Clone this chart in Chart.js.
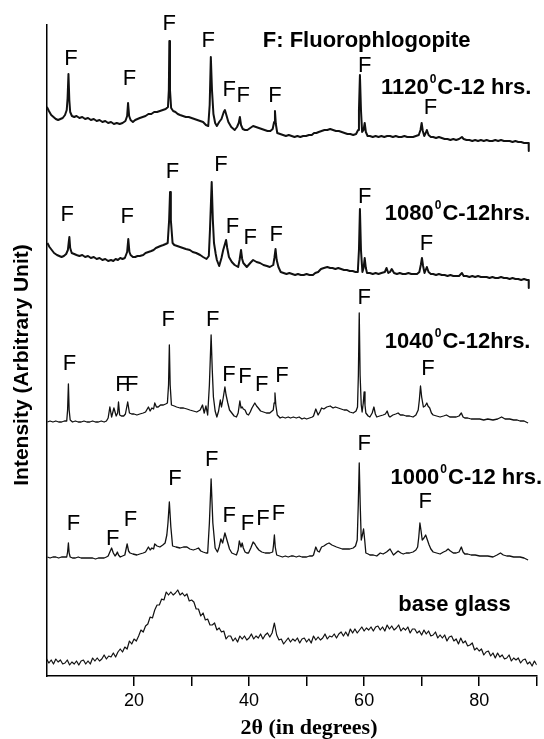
<!DOCTYPE html>
<html lang="en">
  <head>
    <meta charset="UTF-8" />
    <title>XRD patterns - fluorophlogopite glass-ceramics</title>
    <script src="https://cdn.jsdelivr.net/npm/chart.js"></script>
    <style>
      body { margin: 0; background: #fff; }
      #wrap { width: 544px; height: 739px; position: relative; }
    </style>
  </head>
  <body>
    <div id="wrap"><canvas id="xrd"></canvas></div>

    <script>
      // [2theta, intensity above the trace's own reference line]
      const trace1120 = [[4.85,43],[5.2,39],[5.6,35],[6.0,33],[6.4,31],[6.8,30],[7.2,31],[7.6,32],[8.0,35],[8.3,40],[8.45,52],[8.6,76],[8.75,50],[8.9,38],[9.2,34],[9.6,33],[10.0,34],[10.5,32],[11.0,33],[11.5,31],[12.0,32],[12.5,30],[13.0,31],[13.5,29],[14.0,30],[14.5,28],[15.0,29],[15.5,27],[16.0,28],[16.5,26],[17.0,27],[17.5,26],[18.0,27],[18.5,29],[18.8,34],[18.96,47],[19.15,34],[19.4,30],[19.8,28],[20.2,30],[20.6,31],[21.0,32],[21.5,33],[22.0,34],[22.5,36],[23.0,36],[23.5,38],[24.0,38],[24.5,39],[25.0,40],[25.5,41],[25.9,43],[26.05,60],[26.14,109],[26.25,60],[26.45,42],[26.8,39],[27.2,38],[27.6,36],[28.0,35],[28.5,34],[29.0,33],[29.5,33],[30.0,32],[30.5,31],[31.0,30],[31.5,29],[32.0,28],[32.5,25],[32.9,24],[33.15,45],[33.35,93],[33.55,60],[33.8,36],[34.1,27],[34.4,24],[34.8,28],[35.2,31],[35.6,38],[35.8,40],[36.1,34],[36.4,28],[36.9,23],[37.5,20],[37.9,23],[38.2,27],[38.4,33],[38.6,25],[38.9,21],[39.3,20],[39.7,20],[40.2,22],[40.7,24],[41.2,23],[41.7,22],[42.2,21],[42.7,20],[43.2,19],[43.7,19],[44.1,21],[44.35,28],[44.5,39],[44.65,26],[44.9,17],[45.4,16],[45.9,15],[46.4,14],[46.9,15],[47.4,14],[47.9,13],[48.4,14],[48.9,13],[49.4,14],[49.9,14],[50.4,15],[50.9,15],[51.3,17],[51.7,17],[52.1,18],[52.6,19],[53.1,20],[53.6,20],[54.1,21],[54.6,20],[55.1,19],[55.6,19],[56.1,18],[56.6,17],[57.1,16],[57.6,16],[58.1,15],[58.6,16],[58.95,20],[59.1,40],[59.27,75],[59.45,40],[59.65,18],[59.9,20],[60.1,27],[60.3,18],[60.6,14],[61.0,14],[61.5,13],[62.0,14],[62.5,13],[63.0,14],[63.5,13],[64.0,14],[64.5,14],[65.0,13],[65.5,14],[66.0,13],[66.5,13],[67.0,14],[67.5,13],[68.0,13],[68.5,13],[69.0,14],[69.5,15],[69.8,20],[70.0,27],[70.2,19],[70.45,14],[70.7,17],[70.9,20],[71.2,15],[71.6,13],[72.0,13],[72.5,12],[73.0,13],[73.5,12],[74.0,11],[74.5,11],[75.0,10],[75.5,11],[76.0,10],[76.5,11],[77.0,13],[77.3,11],[77.8,10],[78.3,10],[78.8,9],[79.3,10],[79.8,9],[80.3,10],[80.8,9],[81.3,10],[81.8,9],[82.3,9],[82.8,10],[83.3,9],[83.8,10],[84.3,9],[84.8,9],[85.3,9],[85.8,8],[86.3,9],[86.8,8],[87.3,8],[87.8,7],[88.3,7],[88.6,7],[88.62,-1]];

      const trace1080 = [[4.94,47],[5.3,43],[5.7,40],[6.1,37],[6.6,35],[7.0,34],[7.4,33],[7.8,34],[8.2,36],[8.5,40],[8.65,48],[8.76,53],[8.9,42],[9.17,37],[9.6,36],[10.0,35],[10.5,34],[11.0,35],[11.5,33],[12.0,34],[12.5,32],[13.0,33],[13.5,31],[14.0,32],[14.5,30],[15.0,31],[15.5,29],[16.0,30],[16.4,29],[16.8,31],[17.2,30],[17.6,32],[18.0,31],[18.4,32],[18.8,38],[19.0,51],[19.2,38],[19.4,35],[19.8,33],[20.2,33],[20.6,34],[21.0,34],[21.6,35],[22.0,37],[22.5,38],[23.0,39],[23.4,40],[23.8,42],[24.2,43],[24.6,44],[25.1,45],[25.5,46],[25.85,47],[26.1,70],[26.26,98],[26.4,70],[26.7,47],[27.0,45],[27.5,44],[28.0,43],[28.5,42],[29.0,41],[29.7,40],[30.2,38],[30.8,37],[31.5,35],[32.0,33],[32.6,31],[33.0,34],[33.2,60],[33.5,108],[33.7,70],[33.9,47],[34.2,36],[34.4,30],[34.8,24],[35.2,32],[35.5,40],[36.0,50],[36.2,42],[36.5,33],[37.0,28],[37.5,25],[38.1,23],[38.35,30],[38.6,40],[38.8,31],[39.0,27],[39.6,23],[40.2,27],[40.7,30],[41.3,28],[41.9,27],[42.5,25],[43.1,24],[43.6,23],[44.2,25],[44.4,32],[44.6,41],[44.8,30],[45.1,23],[45.5,18],[46.0,17],[46.5,16],[47.0,17],[47.5,16],[48.0,15],[48.5,16],[49.0,15],[49.5,15],[50.0,16],[50.5,15],[51.1,15],[51.5,17],[52.0,18],[52.5,21],[53.0,22],[53.6,23],[54.1,22],[54.5,22],[55.0,21],[55.5,22],[56.0,21],[56.5,20],[57.0,20],[57.5,19],[58.0,19],[58.5,18],[58.9,18],[59.1,40],[59.27,81],[59.45,40],[59.7,18],[59.9,22],[60.1,32],[60.3,22],[60.5,17],[61.0,17],[61.5,16],[62.0,17],[62.5,16],[63.0,17],[63.6,18],[63.9,22],[64.2,17],[64.5,18],[64.8,21],[65.2,17],[65.7,16],[66.2,17],[66.7,16],[67.2,16],[67.7,17],[68.2,16],[68.7,16],[69.2,16],[69.6,18],[69.85,25],[70.05,32],[70.25,24],[70.5,17],[70.7,20],[70.9,23],[71.2,18],[71.6,16],[72.0,16],[72.5,15],[73.0,16],[73.5,15],[74.0,15],[74.5,14],[75.0,15],[75.5,14],[76.0,14],[76.5,14],[77.0,17],[77.3,14],[77.8,14],[78.3,13],[78.8,14],[79.3,13],[79.8,14],[80.3,13],[80.8,13],[81.3,13],[81.8,12],[82.3,13],[82.8,12],[83.3,12],[83.8,13],[84.3,12],[84.8,12],[85.3,11],[85.8,12],[86.3,11],[86.8,11],[87.3,10],[87.8,11],[88.3,10],[88.6,10],[88.62,2]];

      const trace1040 = [[4.94,3],[5.4,4],[5.9,3],[6.4,4],[6.9,3],[7.4,3],[7.9,4],[8.3,4],[8.45,15],[8.59,41],[8.72,15],[8.9,5],[9.3,3],[9.8,4],[10.3,3],[10.8,3],[11.3,4],[11.8,3],[12.3,3],[12.8,4],[13.3,3],[13.8,3],[14.3,4],[14.8,3],[15.2,4],[15.5,7],[15.8,18],[16.1,8],[16.5,17],[16.9,9],[17.15,12],[17.3,23],[17.5,10],[17.8,9],[18.2,9],[18.5,11],[18.9,23],[19.2,12],[19.6,11],[20.0,11],[20.5,10],[21.0,11],[21.6,12],[22.0,13],[22.5,18],[22.8,14],[23.1,17],[23.4,16],[23.6,22],[23.9,18],[24.2,18],[24.6,20],[25.1,20],[25.5,21],[25.8,22],[26.0,40],[26.14,80],[26.28,40],[26.5,20],[27.0,19],[27.4,18],[28.0,17],[28.6,17],[29.2,16],[29.7,15],[30.3,14],[30.9,13],[31.5,15],[31.9,20],[32.2,12],[32.5,19],[32.8,10],[33.1,40],[33.4,90],[33.6,55],[33.8,28],[34.1,14],[34.4,8],[34.7,14],[35.0,25],[35.2,18],[35.5,27],[35.8,38],[36.0,30],[36.3,22],[36.6,15],[37.0,12],[37.4,9],[37.8,8],[38.1,12],[38.4,24],[38.6,17],[38.8,18],[39.0,16],[39.3,15],[39.6,11],[39.9,10],[40.2,13],[40.5,17],[41.0,22],[41.3,19],[41.6,17],[42.0,14],[42.5,13],[43.0,12],[43.6,12],[44.2,15],[44.35,22],[44.5,32],[44.65,20],[44.9,10],[45.4,7],[45.8,8],[46.3,7],[46.8,8],[47.2,7],[47.7,8],[48.2,7],[48.7,8],[49.2,6],[49.6,7],[50.0,6],[50.5,7],[51.0,8],[51.2,9],[51.6,16],[52.0,10],[52.3,13],[52.6,17],[53.0,16],[53.5,18],[54.1,19],[54.6,17],[55.0,18],[55.5,17],[56.0,16],[56.5,15],[57.0,15],[57.5,13],[58.1,12],[58.6,14],[58.85,18],[59.0,50],[59.15,112],[59.3,50],[59.5,20],[59.65,13],[59.85,22],[60.0,33],[60.15,20],[60.3,12],[60.7,9],[61.0,8],[61.4,12],[61.7,18],[61.95,11],[62.2,8],[62.7,9],[63.3,10],[63.7,11],[64.0,14],[64.3,9],[64.5,8],[65.0,10],[65.5,11],[65.9,12],[66.3,10],[66.8,10],[67.3,9],[67.9,9],[68.5,8],[69.0,10],[69.4,15],[69.6,25],[69.8,39],[70.0,28],[70.3,18],[70.6,19],[70.9,22],[71.1,19],[71.4,17],[71.7,12],[72.0,10],[72.6,9],[73.2,8],[73.8,9],[74.3,10],[74.9,8],[75.5,8],[76.0,8],[76.5,9],[76.9,12],[77.2,8],[77.5,7],[78.0,7],[78.6,6],[79.2,6],[80.1,6],[80.8,5],[81.5,6],[82.4,5],[83.2,6],[83.9,8],[84.5,6],[85.3,6],[86.0,5],[86.6,5],[87.1,4],[87.8,4],[88.5,2]];

      const trace1000 = [[4.94,8],[5.4,7],[5.9,8],[6.4,8],[6.9,7],[7.4,8],[7.9,8],[8.3,8],[8.45,13],[8.59,22],[8.72,12],[8.9,8],[9.3,7],[9.8,7],[10.3,8],[10.8,7],[11.3,7],[11.8,7],[12.3,7],[12.8,7],[13.3,6],[13.8,7],[14.3,7],[14.8,7],[15.2,8],[15.5,9],[15.8,13],[16.1,17],[16.4,12],[16.7,9],[16.95,11],[17.1,13],[17.3,10],[17.6,8],[18.0,9],[18.4,10],[18.8,21],[19.05,14],[19.3,12],[19.8,11],[20.5,10],[21.0,11],[21.6,12],[22.0,13],[22.5,18],[22.8,15],[23.1,17],[23.4,16],[23.6,21],[24.0,19],[24.5,18],[25.0,20],[25.4,22],[25.7,30],[25.9,42],[26.14,63],[26.4,38],[26.7,19],[27.3,18],[28.0,17],[28.6,18],[29.2,18],[29.7,16],[30.3,15],[30.8,16],[31.2,17],[31.6,14],[32.0,13],[32.5,12],[32.8,12],[33.1,42],[33.4,86],[33.7,42],[34.1,17],[34.5,13],[34.8,18],[35.1,26],[35.4,22],[35.8,32],[36.0,28],[36.3,22],[36.6,16],[37.0,12],[37.4,11],[37.8,10],[38.1,15],[38.3,24],[38.6,18],[38.8,22],[39.0,17],[39.3,13],[39.6,12],[39.9,12],[40.3,17],[40.7,23],[41.0,21],[41.3,18],[41.7,15],[42.2,13],[42.8,12],[43.6,12],[44.1,13],[44.25,20],[44.4,30],[44.55,18],[44.8,10],[45.3,9],[45.8,8],[46.3,9],[46.8,8],[47.3,9],[47.7,9],[48.2,8],[48.7,9],[49.2,8],[49.6,8],[50.0,8],[50.5,9],[51.0,9],[51.2,10],[51.6,18],[51.9,14],[52.2,13],[52.6,18],[53.0,19],[53.5,21],[53.9,22],[54.4,20],[54.8,19],[55.2,18],[55.7,17],[56.2,16],[56.6,16],[57.0,16],[57.5,16],[58.1,17],[58.5,19],[58.8,25],[58.98,60],[59.15,102],[59.32,60],[59.5,25],[59.7,30],[59.9,36],[60.1,25],[60.3,12],[60.7,11],[61.0,10],[61.6,10],[62.2,9],[62.8,12],[63.3,11],[63.9,13],[64.5,16],[65.1,10],[65.5,12],[65.9,14],[66.4,12],[66.8,11],[67.3,12],[67.9,12],[68.5,13],[69.0,15],[69.3,18],[69.5,28],[69.7,42],[69.9,34],[70.1,25],[70.4,27],[70.7,30],[71.0,25],[71.3,20],[71.6,16],[72.0,13],[72.6,12],[73.2,11],[73.8,13],[74.2,14],[74.6,16],[75.0,14],[75.5,12],[76.0,12],[76.5,13],[76.9,18],[77.2,13],[77.5,11],[78.0,11],[78.6,10],[79.3,10],[80.1,9],[80.8,9],[81.5,9],[82.4,8],[83.1,10],[83.7,12],[84.2,10],[84.8,9],[85.3,9],[86.0,8],[86.6,8],[87.1,8],[87.8,7],[88.5,5]];

      // base glass: measured every 0.4 deg from 4.8 deg
      const baseGlassStart = 4.8;
      const baseGlassStep = 0.4;
      const baseGlass = [17,13,16,12,17,14,16,12,13,16,11,14,12,15,11,15,16,12,15,12,18,15,18,15,17,21,17,20,19,23,19,24,27,24,29,27,35,32,37,35,40,46,44,50,52,59,58,66,71,71,77,76,84,81,84,81,83,86,81,83,80,82,75,76,74,67,67,60,63,56,57,51,51,53,46,48,44,45,37,40,40,35,38,34,40,37,40,36,38,42,37,40,38,42,37,41,43,39,43,53,41,36,37,32,35,38,34,37,35,38,33,37,38,34,37,33,40,36,39,36,38,42,37,40,39,42,38,42,44,40,44,40,47,43,47,43,46,49,45,48,46,49,45,49,50,46,49,45,51,47,50,46,48,51,45,48,46,49,43,47,47,43,45,41,46,42,45,40,41,44,38,41,38,41,35,39,40,35,37,32,38,33,35,30,31,33,26,28,25,27,21,24,25,20,23,18,23,19,21,17,18,21,15,18,16,18,13,16,17,12,14,10,15,11];

      // vertical offset of each pattern in the stack
      const offset1120 = 526;
      const offset1080 = 386;
      const offset1040 = 251;
      const offset1000 = 111;

      // "F" peak markers [2theta, height on the stacked scale]
      const peakMarks = [
        [9.05,619],[19.2,599],[26.1,654],[32.9,637],[36.55,588],[38.99,582],[44.5,582],[60.1,612],[71.55,570],
        [8.4,463],[18.8,461],[26.7,506],[35.1,513],[37.1,451],[40.2,440],[44.7,443],[60.1,481],[70.85,434],
        [8.76,314],[17.9,293],[19.6,293],[25.96,358],[33.7,358],[36.5,303],[39.3,301],[42.2,293],[45.7,302],[60.0,380],[71.1,309],
        [9.45,154],[16.3,139],[19.4,158],[27.1,199],[33.5,218],[36.55,162],[39.7,154],[42.4,159],[45.1,164],[60.0,234],[70.6,176]
      ];

      const sampleLabels = [
        { lead: "F: Fluorophlogopite", x: 42.38, y: 636.7 },
        { lead: "1120", sup: "0", tail: "C-12 hrs.", x: 62.92, y: 590 },
        { lead: "1080", sup: "0", tail: "C-12hrs.", x: 63.6, y: 464 },
        { lead: "1040", sup: "0", tail: "C-12hrs.", x: 63.6, y: 336 },
        { lead: "1000", sup: "0", tail: "C-12 hrs.", x: 64.57, y: 200 },
        { lead: "base glass", x: 65.94, y: 73.5 }
      ];

      const SANS = '"Liberation Sans", Arial, sans-serif';
      const SERIF = '"Liberation Serif", "Times New Roman", serif';

      function stacked(pairs, offset) {
        return pairs.map((p) => ({ x: p[0], y: p[1] + offset }));
      }

      function line(data, width) {
        return {
          data: data,
          borderColor: "#111",
          borderWidth: width,
          borderJoinStyle: "round",
          pointRadius: 0,
          tension: 0,
          fill: false,
        };
      }

      const annotate = {
        id: "annotate",
        afterDraw(chart) {
          const ctx = chart.ctx;
          const xs = chart.scales.x;
          const ys = chart.scales.y;
          ctx.save();
          ctx.fillStyle = "#000";
          ctx.textBaseline = "alphabetic";

          ctx.font = "22px " + SANS;
          ctx.textAlign = "center";
          peakMarks.forEach((m) => {
            ctx.fillText("F", xs.getPixelForValue(m[0]), ys.getPixelForValue(m[1]) + 8);
          });

          ctx.textAlign = "left";
          sampleLabels.forEach((l) => {
            let px = xs.getPixelForValue(l.x);
            const py = ys.getPixelForValue(l.y) + 8;
            ctx.font = "bold 22px " + SANS;
            ctx.fillText(l.lead, px, py);
            if (l.sup) {
              px += ctx.measureText(l.lead).width + 1;
              ctx.font = "bold 12px " + SANS;
              ctx.fillText(l.sup, px, py - 11);
              px += ctx.measureText(l.sup).width + 1;
              ctx.font = "bold 22px " + SANS;
              ctx.fillText(l.tail, px, py);
            }
          });

          // axis titles
          ctx.textAlign = "center";
          ctx.font = "bold 22px " + SERIF;
          ctx.fillText("2\u03b8 (in degrees)", 309, 734);

          ctx.translate(22, 365);
          ctx.rotate(-Math.PI / 2);
          ctx.font = "bold 21px " + SANS;
          ctx.textBaseline = "middle";
          ctx.fillText("Intensity (Arbitrary Unit)", 0, 0);
          ctx.restore();
        },
      };

      new Chart(document.getElementById("xrd"), {
        type: "line",
        data: {
          datasets: [
            line(stacked(trace1120, offset1120), 2.0),
            line(stacked(trace1080, offset1080), 2.0),
            line(stacked(trace1040, offset1040), 1.3),
            line(stacked(trace1000, offset1000), 1.3),
            line(baseGlass.map((v, i) => ({ x: baseGlassStart + i * baseGlassStep, y: v })), 1.2),
          ],
        },
        options: {
          responsive: true,
          maintainAspectRatio: false,
          animation: false,
          events: [],
          layout: { padding: { left: 46.6, right: 7.3, top: 25, bottom: 0 } },
          plugins: { legend: { display: false }, tooltip: { enabled: false } },
          scales: {
            x: {
              type: "linear",
              min: 4.8,
              max: 90,
              afterFit: (scale) => { scale.height = 63; },
              afterBuildTicks: (scale) => {
                scale.ticks = scale.ticks.filter((t) => t.value % 10 === 0);
              },
              border: { display: true, color: "#000", width: 1.5 },
              grid: {
                display: true,
                drawOnChartArea: false,
                drawTicks: true,
                tickLength: 10,
                color: "#000",
                lineWidth: 1.5,
              },
              ticks: {
                stepSize: 10,
                autoSkip: false,
                maxRotation: 0,
                padding: 4,
                color: "#000",
                font: { family: SANS, size: 18 },
                callback: (v) => (v % 20 === 0 ? v : ""),
              },
            },
            y: {
              min: 0,
              max: 651,
              afterFit: (scale) => { scale.width = 0; },
              border: { display: true, color: "#000", width: 1.5 },
              grid: { display: false },
              ticks: { display: false },
            },
          },
        },
        plugins: [annotate],
      });
    </script>
  </body>
</html>
